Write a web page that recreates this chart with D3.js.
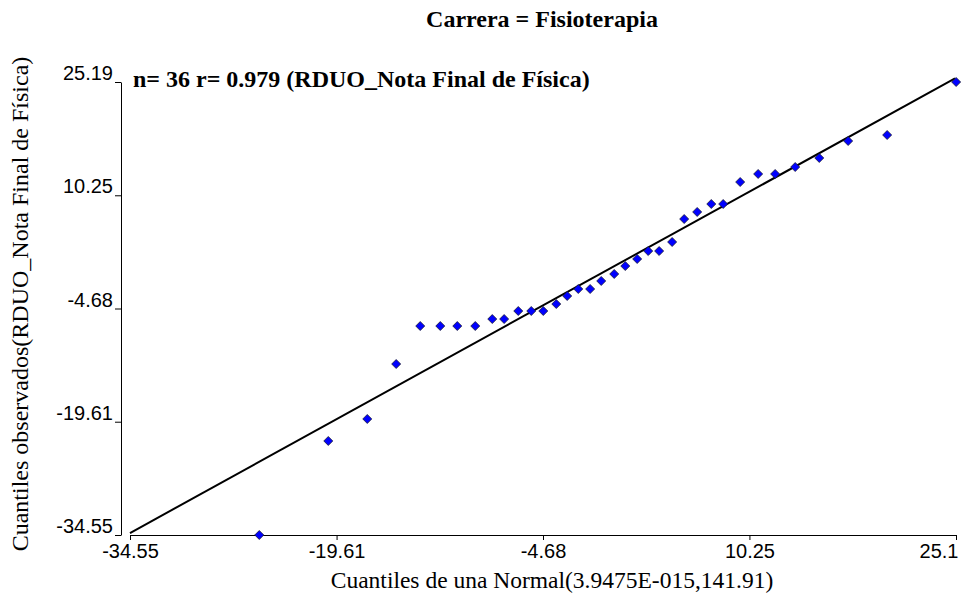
<!DOCTYPE html>
<html>
<head>
<meta charset="utf-8">
<script src="https://cdn.jsdelivr.net/npm/d3@7"></script>
<style>
  html, body { margin: 0; padding: 0; background: #fff; }
  svg { display: block; }
</style>
</head>
<body>
<svg id="chart" width="973" height="597"></svg>
<script>
// Normal Q-Q plot: theoretical quantiles vs observed residual quantiles
const titleText = "Carrera = Fisioterapia";
const statsText = "n= 36 r= 0.979 (RDUO_Nota Final de Física)";
const xTitle = "Cuantiles de una Normal(3.9475E-015,141.91)";
const yTitle = "Cuantiles observados(RDUO_Nota Final de Física)";

// Theoretical normal quantiles (ascending)
const theoretical = [
  -25.20, -20.21, -17.39, -15.30, -13.56, -12.11, -10.88, -9.58, -8.35,
  -7.49, -6.47, -5.53, -4.66, -3.72, -2.93, -2.13, -1.27, -0.47,
  0.47, 1.27, 2.13, 2.93, 3.72, 4.66, 5.53, 6.47, 7.49,
  8.35, 9.58, 10.88, 12.11, 13.56, 15.30, 17.39, 20.21, 25.20
];
// Observed residual quantiles (ascending)
const observed = [
  -34.55, -22.15, -19.25, -12.00, -6.99, -6.99, -6.99, -6.99, -6.07,
  -6.07, -5.01, -5.01, -5.01, -4.09, -3.03, -2.11, -2.11, -1.05,
  -0.13, 0.92, 1.85, 2.90, 2.90, 4.09, 7.12, 8.05, 9.10,
  9.10, 12.00, 13.06, 13.06, 13.98, 15.17, 17.41, 18.20, 25.19
];

// Axis extent and ticks (shared by both axes)
const axisDomain = [-34.55, 25.19];
const tickValues = [-34.55, -19.61, -4.68, 10.25, 25.19];
const xTickLabels = ["-34.55", "-19.61", "-4.68", "10.25", "25.1"];
const yTickLabels = ["-34.55", "-19.61", "-4.68", "10.25", "25.19"];

// Fitted reference line, given by its two end points
const fitX = [-34.55, 25.12];
const fitY = [-34.29, 25.67];

const svg = d3.select("#chart");

const x = d3.scaleLinear().domain(axisDomain).range([130, 956]);
const y = d3.scaleLinear().domain(axisDomain).range([535, 82]);

const serif = "'Liberation Serif', 'Times New Roman', serif";
const sans = "'Liberation Sans', Arial, sans-serif";

// Title
svg.append("text")
  .attr("x", 542).attr("y", 27)
  .attr("text-anchor", "middle")
  .style("font-family", serif).style("font-weight", "bold").style("font-size", "24px")
  .text(titleText);

// Y axis
const yAxis = d3.axisLeft(y)
  .tickValues(tickValues)
  .tickFormat((d, i) => yTickLabels[i])
  .tickSize(6).tickSizeOuter(0);
const gy = svg.append("g").attr("transform", "translate(121,0)").call(yAxis);
gy.selectAll("text")
  .attr("x", -8).attr("dy", "-0.12em")
  .style("font-family", sans).style("font-size", "20px").style("fill", "#000");

// X axis
const xAxis = d3.axisBottom(x)
  .tickValues(tickValues)
  .tickFormat((d, i) => xTickLabels[i])
  .tickSize(5).tickSizeOuter(0);
const gx = svg.append("g").attr("transform", "translate(0,535)").call(xAxis);
gx.selectAll("text")
  .attr("y", 9)
  .style("font-family", sans).style("font-size", "20px").style("fill", "#000");
// keep the last label inside the plot edge
gx.selectAll(".tick").filter((d, i) => i === tickValues.length - 1)
  .select("text").attr("text-anchor", "end").attr("x", 2);

svg.selectAll(".domain, .tick line").attr("stroke", "#000").attr("stroke-width", 1);

// Axis titles
svg.append("text")
  .attr("x", 552).attr("y", 588)
  .attr("text-anchor", "middle")
  .style("font-family", serif).style("font-size", "23.5px")
  .text(xTitle);

svg.append("text")
  .attr("transform", "translate(28,304) rotate(-90)")
  .attr("text-anchor", "middle")
  .style("font-family", serif).style("font-size", "24px")
  .text(yTitle);

// Fitted line
svg.append("line")
  .attr("x1", x(fitX[0])).attr("y1", y(fitY[0]))
  .attr("x2", x(fitX[1])).attr("y2", y(fitY[1]))
  .attr("stroke", "#000").attr("stroke-width", 2);

// Points as diamonds
const pts = theoretical.map((t, i) => ({ t, o: observed[i] }));
const r = 4.5;
svg.append("g").selectAll("path").data(pts).join("path")
  .attr("d", `M0,${-r}L${r},0L0,${r}L${-r},0Z`)
  .attr("transform", d => `translate(${x(d.t)},${y(d.o)})`)
  .attr("fill", "#0000ff")
  .attr("stroke", "#1a1a33").attr("stroke-width", 0.8);

// Sample size and correlation
svg.append("text")
  .attr("x", 133).attr("y", 87)
  .style("font-family", serif).style("font-weight", "bold").style("font-size", "24px")
  .text(statsText);
</script>
</body>
</html>
